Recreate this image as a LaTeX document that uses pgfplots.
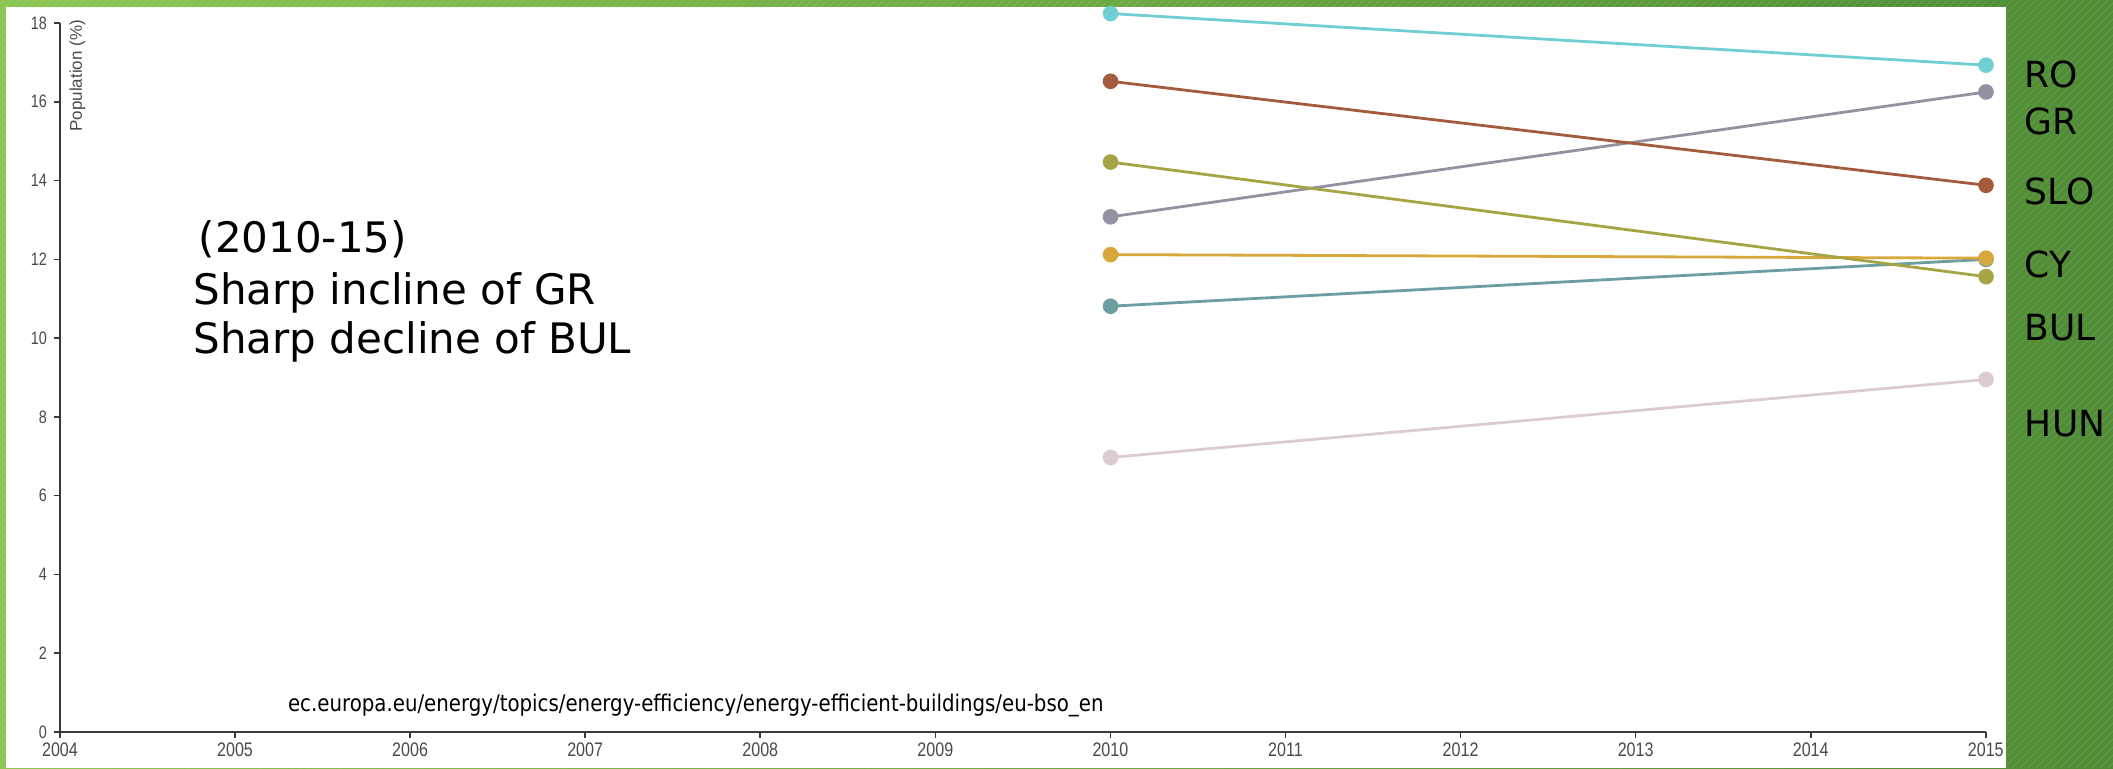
\documentclass[border=0pt]{standalone}
\usepackage{fontspec}
\setmainfont{Liberation Sans}
\newfontfamily\notefont{DejaVu Sans}
\usepackage{pgfplots}
\pgfplotsset{compat=1.18}

\definecolor{bgl}{HTML}{8CC651}
\definecolor{bgr}{HTML}{4F8C35}
\definecolor{axisc}{HTML}{3A3A3A}
\definecolor{tickc}{HTML}{4A4A4A}
\definecolor{cRO}{HTML}{6FCFD3}
\definecolor{cGR}{HTML}{9492A2}
\definecolor{cSLO}{HTML}{A45A3C}
\definecolor{cBUL}{HTML}{A6A444}
\definecolor{cCYa}{HTML}{D8A83C}
\definecolor{cCYb}{HTML}{6C9DA3}
\definecolor{cHUN}{HTML}{DCCBD0}

\begin{document}
\begin{tikzpicture}
% slide background: green gradient with fine diagonal stripes
\begin{scope}
  \clip (-30pt,-18pt) rectangle (1026.5pt,366pt);
  \fill[left color=bgl, right color=bgr] (-30pt,-18pt) rectangle (1026.5pt,366pt);
  \foreach \i in {0,4,...,1460}
    \draw[white, opacity=0.07, line width=0.8pt] ({(\i-420)*1pt},-18pt) -- ++(400pt,400pt);
\end{scope}
% white chart panel
\fill[white] (-27pt,-18pt) rectangle (973pt,362.5pt);

\begin{axis}[
  scale only axis,
  width=963pt, height=354.5pt,
  xmin=2004, xmax=2015, ymin=0, ymax=18,
  axis lines=left,
  axis line style={-, draw=axisc, line width=1pt},
  xtick={2004,...,2015},
  ytick={0,2,...,18},
  tick align=outside,
  major tick length=3pt,
  tick style={draw=axisc, line width=0.8pt},
  /pgf/number format/assume math mode=true,
  xticklabel={\scalebox{0.82}[1]{\pgfmathprintnumber[1000 sep={}]{\tick}}},
  yticklabel={\scalebox{0.8}[1]{\pgfmathprintnumber{\tick}}},
  xticklabel style={font=\fontsize{9.8}{11}\selectfont, text=tickc, yshift=1pt},
  yticklabel style={font=\fontsize{9}{10}\selectfont, text=tickc},
  clip=false,
  every axis plot/.append style={line width=1.4pt, mark=*, mark size=3.2pt},
]
\addplot[color=cHUN] coordinates {(2010,6.97) (2015,8.95)};
\addplot[color=cCYb] coordinates {(2010,10.81) (2015,12.00)};
\addplot[color=cCYa] coordinates {(2010,12.12) (2015,12.03)};
\addplot[color=cGR]  coordinates {(2010,13.08) (2015,16.25)};
\addplot[color=cBUL] coordinates {(2010,14.47) (2015,11.56)};
\addplot[color=cSLO] coordinates {(2010,16.52) (2015,13.88)};
\addplot[color=cRO]  coordinates {(2010,18.24) (2015,16.93)};

\node[rotate=90, anchor=base east, font=\fontsize{8.5}{10}\selectfont, text=tickc]
  at ([xshift=11pt,yshift=5pt]rel axis cs:0,1) {Population (\%)};

% notes
\node[anchor=base west, font=\notefont\fontsize{21}{24}\selectfont, inner sep=0pt] at (axis cs:2004.79,12.18) {(2010-15)};
\node[anchor=base west, font=\notefont\fontsize{21}{24}\selectfont, inner sep=0pt] at (axis cs:2004.76,10.86) {Sharp incline of GR};
\node[anchor=base west, font=\notefont\fontsize{21}{24}\selectfont, inner sep=0pt] at (axis cs:2004.76,9.60) {Sharp decline of BUL};
\node[anchor=base west, font=\notefont\fontsize{11.5}{13}\selectfont, inner sep=0pt] at (axis cs:2005.30,0.51) {\scalebox{0.86}[1]{ec.europa.eu/energy/topics/energy-efficiency/energy-efficient-buildings/eu-bso\_en}};

% country labels beside the panel
\node[anchor=base west, font=\notefont\fontsize{18}{21}\selectfont, inner sep=0pt] at (axis cs:2015.22,16.35) {RO};
\node[anchor=base west, font=\notefont\fontsize{18}{21}\selectfont, inner sep=0pt] at (axis cs:2015.22,15.16) {GR};
\node[anchor=base west, font=\notefont\fontsize{18}{21}\selectfont, inner sep=0pt] at (axis cs:2015.22,13.38) {SLO};
\node[anchor=base west, font=\notefont\fontsize{18}{21}\selectfont, inner sep=0pt] at (axis cs:2015.22,11.55) {CY};
\node[anchor=base west, font=\notefont\fontsize{18}{21}\selectfont, inner sep=0pt] at (axis cs:2015.22,9.95) {BUL};
\node[anchor=base west, font=\notefont\fontsize{18}{21}\selectfont, inner sep=0pt] at (axis cs:2015.22,7.49) {HUN};
\end{axis}
\end{tikzpicture}
\end{document}
